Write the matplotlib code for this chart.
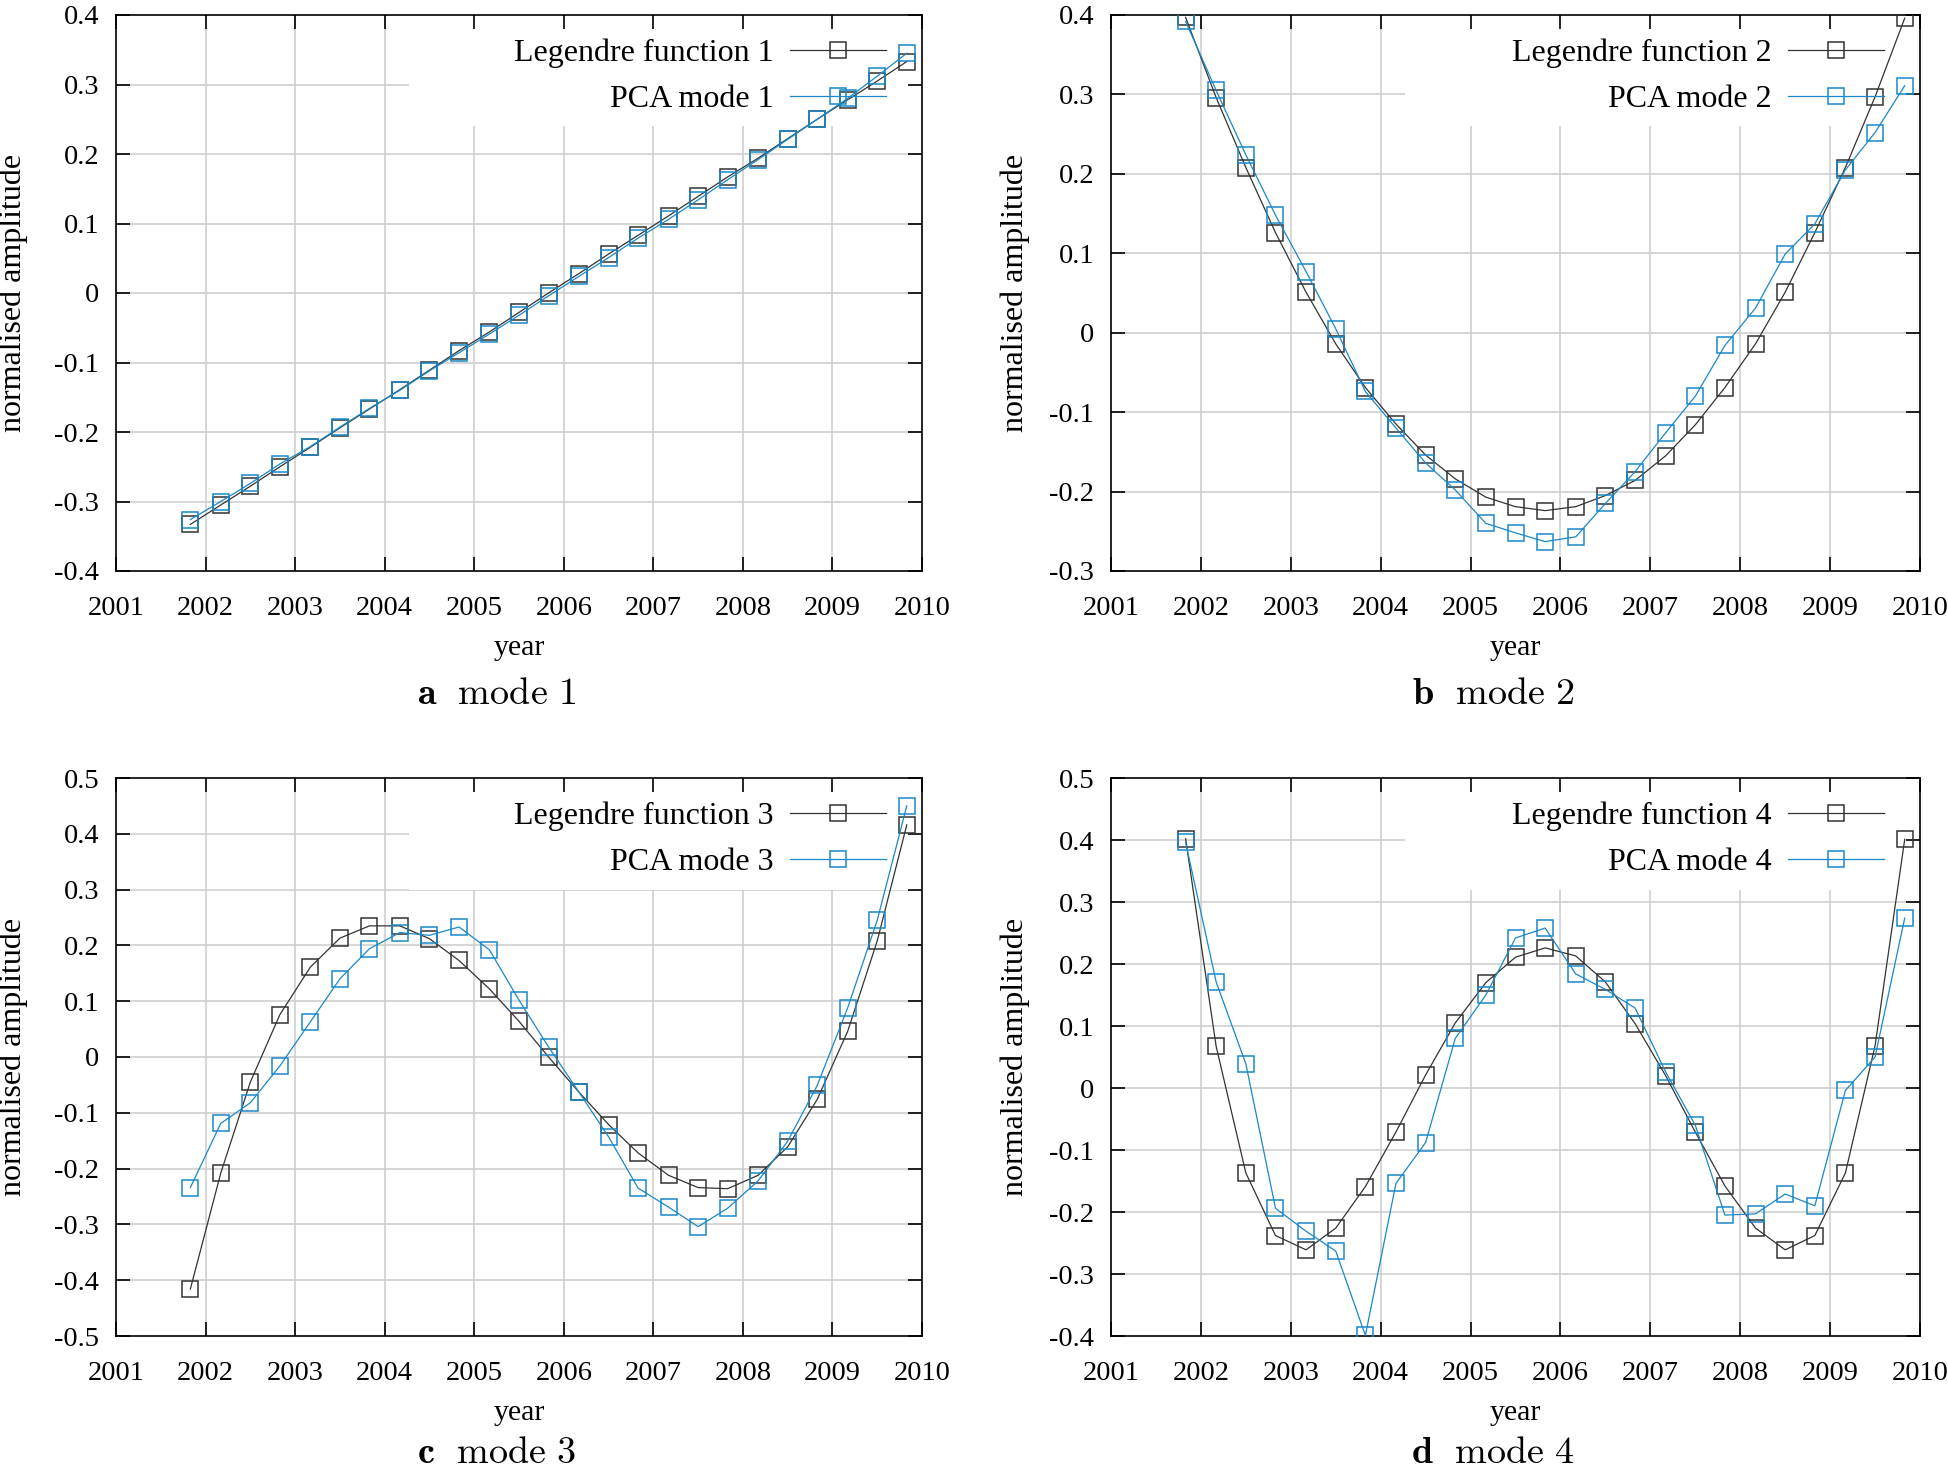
import matplotlib
matplotlib.use('Agg')
import matplotlib.pyplot as plt
from matplotlib.patches import Rectangle

plt.rcParams['font.family'] = ['Liberation Serif', 'DejaVu Serif']
plt.rcParams['mathtext.fontset'] = 'cm'
plt.rcParams['axes.unicode_minus'] = False

# sample times (years), one point every ~4 months
years = [2001.83, 2002.17, 2002.50, 2002.83, 2003.17, 2003.50, 2003.83, 2004.17,
         2004.50, 2004.83, 2005.17, 2005.50, 2005.83, 2006.17, 2006.50, 2006.83,
         2007.17, 2007.50, 2007.83, 2008.17, 2008.50, 2008.83, 2009.17, 2009.50,
         2009.83]

legendre1 = [-0.333, -0.305, -0.278, -0.250, -0.222, -0.194, -0.167, -0.139,
             -0.111, -0.083, -0.056, -0.028, 0.000, 0.028, 0.056, 0.083,
             0.111, 0.139, 0.167, 0.194, 0.222, 0.250, 0.278, 0.305, 0.333]
pca1 = [-0.326, -0.300, -0.274, -0.246, -0.221, -0.193, -0.166, -0.140,
        -0.112, -0.086, -0.059, -0.032, -0.004, 0.024, 0.051, 0.079,
        0.106, 0.134, 0.163, 0.192, 0.221, 0.250, 0.280, 0.312, 0.345]

legendre2 = [0.397, 0.296, 0.208, 0.126, 0.051, -0.014, -0.069, -0.115,
             -0.154, -0.184, -0.207, -0.219, -0.224, -0.219, -0.205, -0.186,
             -0.155, -0.116, -0.069, -0.014, 0.051, 0.126, 0.208, 0.297, 0.396]
pca2 = [0.392, 0.305, 0.224, 0.148, 0.077, 0.005, -0.074, -0.120,
        -0.164, -0.198, -0.240, -0.252, -0.263, -0.257, -0.215, -0.175,
        -0.126, -0.080, -0.016, 0.031, 0.099, 0.137, 0.205, 0.252, 0.311]

legendre3 = [-0.416, -0.208, -0.045, 0.076, 0.161, 0.213, 0.235, 0.235,
             0.212, 0.173, 0.122, 0.064, 0.000, -0.063, -0.121, -0.172,
             -0.212, -0.234, -0.236, -0.212, -0.161, -0.076, 0.046, 0.208, 0.416]
pca3 = [-0.234, -0.119, -0.082, -0.016, 0.063, 0.140, 0.194, 0.223,
        0.218, 0.233, 0.192, 0.102, 0.018, -0.063, -0.143, -0.235,
        -0.269, -0.304, -0.271, -0.222, -0.151, -0.051, 0.088, 0.245, 0.450]

legendre4 = [0.402, 0.067, -0.137, -0.238, -0.261, -0.226, -0.159, -0.071,
             0.021, 0.105, 0.170, 0.211, 0.226, 0.213, 0.171, 0.104,
             0.020, -0.071, -0.158, -0.226, -0.261, -0.238, -0.137, 0.068, 0.401]
pca4 = [0.396, 0.171, 0.039, -0.194, -0.231, -0.263, -0.399, -0.154,
        -0.088, 0.080, 0.150, 0.242, 0.258, 0.184, 0.159, 0.129,
        0.026, -0.060, -0.205, -0.203, -0.171, -0.190, -0.004, 0.050, 0.274]

year_ticks = [2001, 2002, 2003, 2004, 2005, 2006, 2007, 2008, 2009, 2010]

panels = [
    (legendre1, pca1, 1, 'a', (-0.4, 0.4), [-0.4, -0.3, -0.2, -0.1, 0, 0.1, 0.2, 0.3, 0.4]),
    (legendre2, pca2, 2, 'b', (-0.3, 0.4), [-0.3, -0.2, -0.1, 0, 0.1, 0.2, 0.3, 0.4]),
    (legendre3, pca3, 3, 'c', (-0.5, 0.5), [-0.5, -0.4, -0.3, -0.2, -0.1, 0, 0.1, 0.2, 0.3, 0.4, 0.5]),
    (legendre4, pca4, 4, 'd', (-0.4, 0.5), [-0.4, -0.3, -0.2, -0.1, 0, 0.1, 0.2, 0.3, 0.4, 0.5]),
]

BLACK = '#333333'
BLUE = '#1a88c9'
GRID = '#cccccc'

fig = plt.figure(figsize=(19.49, 14.71), dpi=100)

W, H = 1949, 1471
boxes = [(116, 15, 922, 571), (1111, 15, 1920, 571),
         (116, 778, 922, 1336), (1111, 778, 1920, 1336)]
captions = [(497, 695), (1493, 695), (497, 1454), (1493, 1454)]
ylab_x = [28, 1030, 28, 1030]


def fmt(v):
    if v == 0:
        return '0'
    return ('%.1f' % v)


for i, (leg, pca, n, letter, ylim, yticks) in enumerate(panels):
    x0, y0, x1, y1 = boxes[i]
    ax = fig.add_axes([x0 / W, 1 - y1 / H, (x1 - x0) / W, (y1 - y0) / H])
    ax.set_xlim(2001, 2010)
    ax.set_ylim(*ylim)
    ax.set_xticks(year_ticks)
    ax.set_xticklabels([str(y) for y in year_ticks])
    ax.set_yticks(yticks)
    ax.set_yticklabels([fmt(v) for v in yticks])
    ax.tick_params(direction='in', length=10, width=1.2, labelsize=20.5,
                   top=True, right=True)
    ax.tick_params(axis='x', pad=18)
    ax.tick_params(axis='y', pad=12)
    for s in ax.spines.values():
        s.set_linewidth(1.2)

    # grid drawn by hand so the key area can be blanked while ticks stay visible
    for xv in year_ticks[1:-1]:
        ax.axvline(xv, color=GRID, lw=1.1, zorder=0.5)
    for yv in yticks[1:-1]:
        ax.axhline(yv, color=GRID, lw=1.1, zorder=0.5)
    ax.add_patch(Rectangle((0.364, 0.80), 0.636, 0.2, transform=ax.transAxes,
                           facecolor='white', edgecolor='none', zorder=1))

    ax.plot(years, leg, color=BLACK, lw=0.9, marker='s', ms=12, mfc='none',
            mec=BLACK, mew=1.1, label='Legendre function %d' % n, zorder=3)
    ax.plot(years, pca, color=BLUE, lw=0.9, marker='s', ms=12, mfc='none',
            mec=BLUE, mew=1.1, label='PCA mode %d' % n, zorder=3)

    ax.legend(loc='upper right', bbox_to_anchor=(0.955, 0.957), frameon=False,
              markerfirst=False, fontsize=23, handlelength=3.0,
              handletextpad=0.5, labelspacing=0.5, borderpad=0,
              borderaxespad=0, numpoints=1)

    ax.set_xlabel('year', fontsize=21.5, labelpad=10)
    ax.set_ylabel('normalised amplitude', fontsize=23)
    ax.yaxis.set_label_coords((ylab_x[i] - x0) / (x1 - x0), 0.5)

    cx, cy = captions[i]
    fig.text(cx / W, 1 - cy / H, r'$\mathbf{%s}\ \ \mathrm{mode\ %d}$' % (letter, n),
             fontsize=27.5, ha='center', va='center')

fig.savefig('out.png', dpi=100)
